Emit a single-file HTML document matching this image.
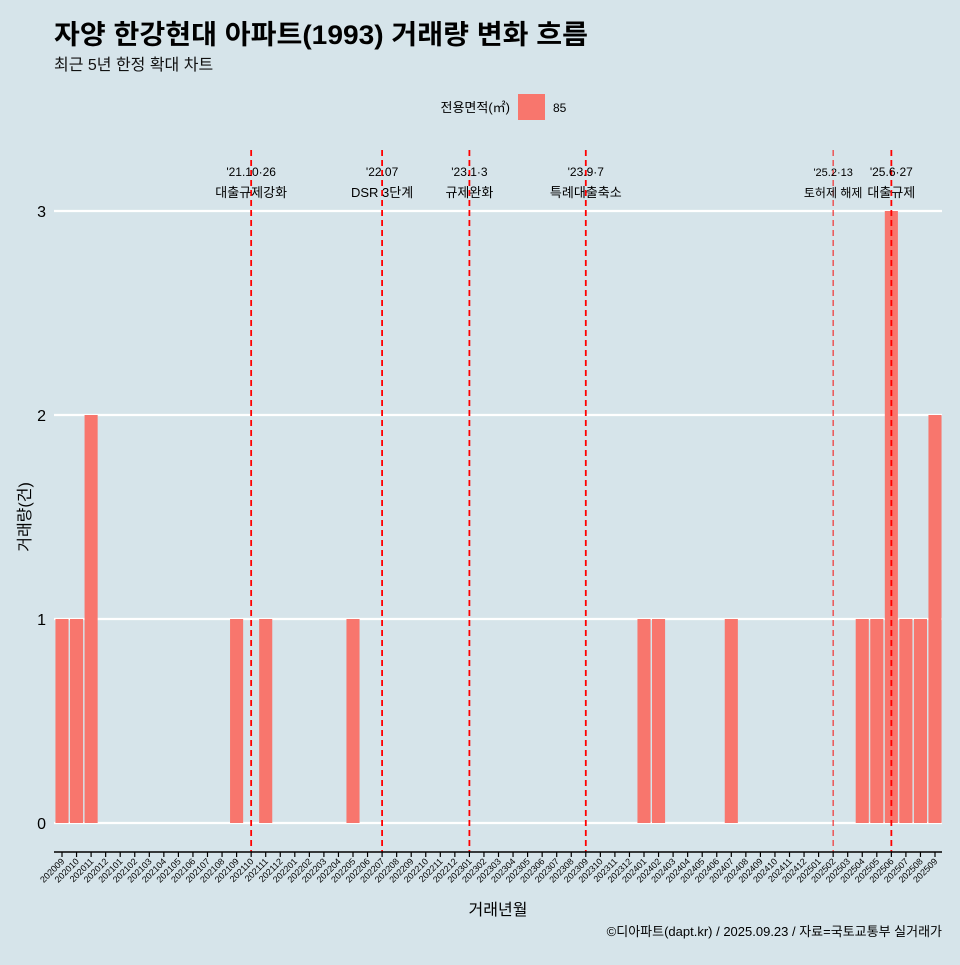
<!DOCTYPE html>
<html><head><meta charset="utf-8"><style>
body{margin:0;background:#d6e4ea;font-family:"Liberation Sans","Noto Sans CJK KR",sans-serif}
svg text{font-family:"Liberation Sans","Noto Sans CJK KR",sans-serif}
</style></head><body>
<svg id="c" width="960" height="960" xmlns="http://www.w3.org/2000/svg">
<rect width="960" height="960" fill="#d6e4ea"/>
<text x="54" y="44" font-size="27" font-weight="bold" fill="#000" textLength="534" lengthAdjust="spacingAndGlyphs">자양 한강현대 아파트(1993) 거래량 변화 흐름</text>
<text x="54" y="70" font-size="16" fill="#111">최근 5년 한정 확대 차트</text>
<g>
<text x="510" y="112" font-size="13" text-anchor="end">전용면적(㎡)</text>
<rect x="518" y="94" width="27" height="26" fill="#f8766d"/>
<text x="553" y="112" font-size="12">85</text>
</g>
<g id="grid"></g><g id="bars"></g><g id="events"></g><g id="axes"></g>
<text x="30" y="517" font-size="16" text-anchor="middle" transform="rotate(-90 30 517)">거래량(건)</text>
<text x="498" y="915" font-size="16" text-anchor="middle">거래년월</text>
<text x="942" y="936" font-size="13" text-anchor="end">©디아파트(dapt.kr) / 2025.09.23 / 자료=국토교통부 실거래가</text>
</svg>
<script>
const months=[];
for(let y=2020,m=9;y<2025||(y===2025&&m<=9);){months.push(String(y)+String(m).padStart(2,'0'));m++;if(m>12){m=1;y++;}}
const counts={"202009":1,"202010":1,"202011":2,"202109":1,"202111":1,"202205":1,"202401":1,"202402":1,"202407":1,"202504":1,"202505":1,"202506":3,"202507":1,"202508":1,"202509":2};
const yTicks=[0,1,2,3];
const eventMonths=["202110","202207","202301","202309","202502","202506"];
const eventDates=["'21.10·26","'22.07","'23.1·3","'23.9·7","'25.2·13","'25.6·27"];
const eventLabels=["대출규제강화","DSR 3단계","규제완화","특례대출축소","토허제 해제","대출규제"];
const NS="http://www.w3.org/2000/svg";
const x0=62,step=(935-62)/(months.length-1);
const xs=i=>x0+i*step;
const ys=v=>823-v*204;
function mk(t,a,p){const e=document.createElementNS(NS,t);for(const k in a)e.setAttribute(k,a[k]);p.appendChild(e);return e;}
const grid=document.getElementById('grid'),bars=document.getElementById('bars'),ev=document.getElementById('events'),ax=document.getElementById('axes');
yTicks.forEach(v=>{
 const l=mk('line',{x1:54,x2:942,y1:ys(v),y2:ys(v),stroke:'#fff','stroke-width':2.2},grid);
 
 
 const t=mk('text',{x:46,y:ys(v)+6,'font-size':16,'text-anchor':'end'},ax);t.textContent=v;
 
 
});
months.forEach((m,i)=>{
 const v=counts[m]||0;
 if(v>0){const r=mk('rect',{x:xs(i)-step*0.45,y:ys(v),width:step*0.9,height:ys(0)-ys(v),fill:'#f8766d'},bars);
 
 }
 mk('line',{x1:xs(i),x2:xs(i),y1:852,y2:857,stroke:'#000','stroke-width':1.2},ax);
 const t=mk('text',{x:xs(i)+3,y:862,'font-size':9,'text-anchor':'end',transform:`rotate(-45 ${xs(i)+3} 862)`},ax);t.textContent=m;
 
 
});
const al=mk('line',{x1:54,x2:942,y1:852,y2:852,stroke:'#000','stroke-width':1.5},ax);


eventMonths.forEach((m,k)=>{
 const x=xs(months.indexOf(m));
 const thin=m==="202502";
 const l=mk('line',{x1:x,x2:x,y1:150,y2:852,stroke:thin?'#f03030':'#ff0000','stroke-width':thin?1.2:1.8,'stroke-dasharray':'6,4'},ev);
 
 
 const fs=thin?11:12;
 const t1=mk('text',{x:x,y:176,'font-size':fs,'text-anchor':'middle'},ev);t1.textContent=eventDates[k];
 
 
 const t2=mk('text',{x:x,y:197,'font-size':fs+1,'text-anchor':'middle'},ev);t2.textContent=eventLabels[k];
 
 
});
</script>
</body></html>
